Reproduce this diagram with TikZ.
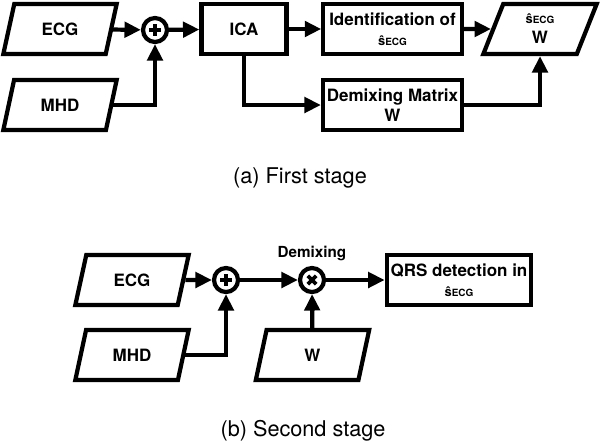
\documentclass[tikz,border=0pt]{standalone}
\usepackage{fontspec}
\setmainfont{TeX Gyre Heros}
\usetikzlibrary{shapes.geometric,arrows.meta}
\newcommand{\shat}{{\fontsize{11}{12}\selectfont ŝ\fontsize{8.5}{9}\selectfont ECG}}

\begin{document}
\begin{tikzpicture}[x=0.03cm,y=-0.03cm,
line width=3.6pt,
data/.style={trapezium,trapezium left angle=62,trapezium right angle=118,
  trapezium stretches body,draw,minimum width=3.4cm,minimum height=1.5cm,
  font=\bfseries\fontsize{14.5}{17}\selectfont,align=center},
proc/.style={rectangle,draw,minimum height=1.52cm,
  font=\bfseries\fontsize{14.5}{17}\selectfont,align=center},
sum/.style={circle,draw,minimum size=0.72cm,inner sep=0pt},
addsign/.style={path picture={
  \draw[line width=3.2pt] ([xshift=-5pt]path picture bounding box.center) -- ([xshift=5pt]path picture bounding box.center)
    ([yshift=-5pt]path picture bounding box.center) -- ([yshift=5pt]path picture bounding box.center);}},
mulsign/.style={path picture={
  \draw[line width=3.2pt] ([shift={(-3.6pt,-3.6pt)}]path picture bounding box.center) -- ([shift={(3.6pt,3.6pt)}]path picture bounding box.center)
    ([shift={(-3.6pt,3.6pt)}]path picture bounding box.center) -- ([shift={(3.6pt,-3.6pt)}]path picture bounding box.center);}},
arr/.style={-{Triangle[length=14pt,width=13pt]}},
caption/.style={font=\fontsize{18.5}{22}\selectfont}]
\useasboundingbox (0,0) rectangle (600,443);

% first stage
\node[data] (ecgA) at (60,29) {ECG};
\node[data] (mhdA) at (60,105) {MHD};
\node[sum,addsign] (addA) at (155,30) {};
\node[proc,minimum width=2.55cm] (ica) at (244,29) {ICA};
\node[proc,minimum width=4.15cm] (ident) at (392.5,29) {Identification of\\ \shat};
\node[proc,minimum width=4.15cm] (demix) at (392.5,105) {Demixing Matrix\\ W};
\node[data] (out) at (540,29) {\shat\\ W};
\node[caption] (capA) at (300,178) {(a) First stage};

\draw[arr] (ecgA) -- (addA);
\draw[arr] (mhdA) -| (addA);
\draw[arr] (addA) -- (ica);
\draw[arr] (ica) -- (ident);
\draw[arr] (ica) |- (demix);
\draw[arr] (ident) -- (out);
\draw[arr] (demix) -| (out);

% second stage
\node[data] (ecgB) at (132,280) {ECG};
\node[data] (mhdB) at (132,355) {MHD};
\node[data] (wB) at (312.5,355) {W};
\node[sum,addsign] (addB) at (226,280) {};
\node[sum,mulsign] (mulB) at (312,280) {};
\node[font=\bfseries\fontsize{13}{15}\selectfont] (lblDemix) at (312,253) {Demixing};
\node[proc,minimum width=4.1cm] (qrs) at (459,280) {QRS detection in\\ \shat};
\node[caption] (capB) at (303,431) {(b) Second stage};

\draw[arr] (ecgB) -- (addB);
\draw[arr] (mhdB) -| (addB);
\draw[arr] (addB) -- (mulB);
\draw[arr] (wB) -- (mulB);
\draw[arr] (mulB) -- (qrs);
\end{tikzpicture}
\end{document}
